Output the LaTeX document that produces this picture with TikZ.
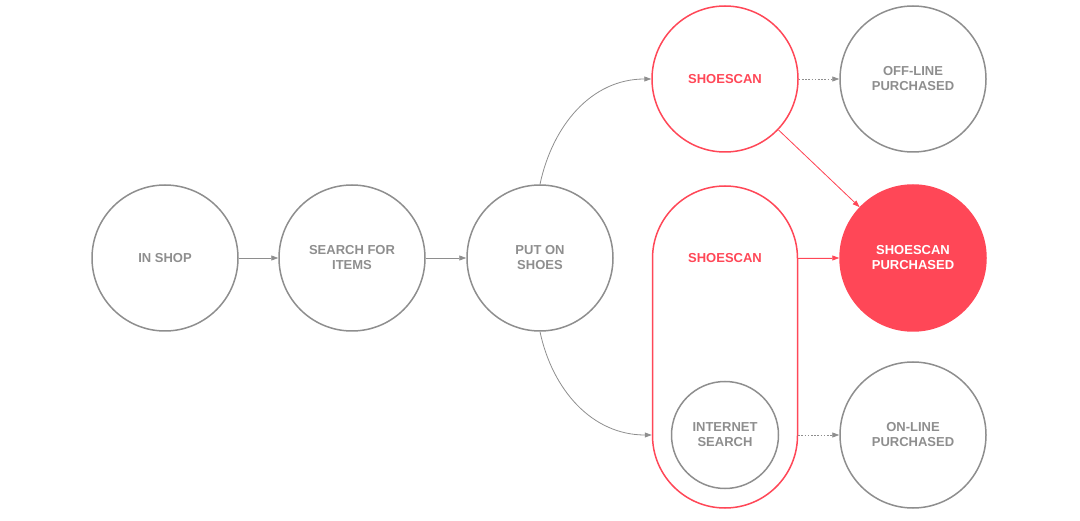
\documentclass[tikz,border=0pt]{standalone}
\usepackage{fontspec}
\setmainfont{Liberation Sans}
\usetikzlibrary{arrows.meta}
\definecolor{scanred}{HTML}{FF4757}
\definecolor{stepgray}{HTML}{8E8E8E}
\begin{document}
\begin{tikzpicture}[x=1pt,y=1pt]
\tikzset{every node/.style={font=\fontsize{13}{15}\selectfont\bfseries, align=center, text=stepgray}}
\tikzset{state/.style={circle, draw=stepgray, line width=1.5pt, minimum size=146pt, inner sep=0pt}}
\tikzset{scanstate/.style={state, draw=scanred, text=scanred}}
\tikzset{link/.style={draw=stepgray, line width=0.8pt, -{Triangle[length=7pt,width=5pt]}}}
\tikzset{dotlink/.style={link, dash pattern=on 1.6pt off 1.6pt}}
\tikzset{scanlink/.style={link, draw=scanred, fill=scanred}}
\useasboundingbox (0,0) rectangle (1080,520);
% first row of steps
\node[state] (inshop) at (165,262) {IN SHOP};
\node[state] (search) at (352,262) {SEARCH FOR\\ITEMS};
\node[state] (puton) at (540,262) {PUT ON\\SHOES};
% branches
\node[scanstate] (scan) at (725,441) {SHOESCAN};
\node[state] (offline) at (913,441) {OFF-LINE\\PURCHASED};
\node[state, fill=scanred, draw=scanred, text=white] (purchased) at (913,262) {SHOESCAN\\PURCHASED};
\node[draw=scanred, line width=1.5pt, rounded corners=72.5pt, minimum width=145pt,
  minimum height=322pt, inner sep=0pt] (stadium) at (725,173) {};
\node[text=scanred] (scanlabel) at (725,262) {SHOESCAN};
\node[state, minimum size=107pt] (internet) at (725,85) {INTERNET\\SEARCH};
\node[state] (online) at (913,85) {ON-LINE\\PURCHASED};
% connectors
\draw[link] (inshop) -- (search);
\draw[link] (search) -- (puton);
\draw[link] (puton.north) to[out=78, in=180] (scan.west);
\draw[link] (puton.south) to[out=-78, in=180] (stadium.west |- internet);
\draw[dotlink] (scan) -- (offline);
\draw[dotlink] (stadium.east |- internet) -- (online);
\draw[scanlink] (scan) -- (purchased);
\draw[scanlink] (stadium.east |- scanlabel) -- (purchased);
\end{tikzpicture}
\end{document}
